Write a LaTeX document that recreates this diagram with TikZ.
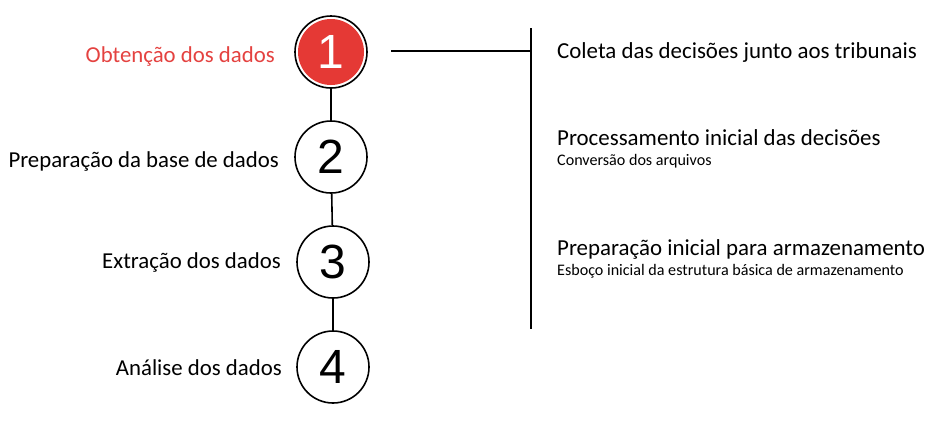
\documentclass[tikz,border=0pt]{standalone}
\usepackage{fontspec}
\setmainfont{Carlito}
\newfontfamily\numfont{Liberation Sans}
\usepackage{xcolor}
\usetikzlibrary{positioning,calc}
\definecolor{stepred}{RGB}{229,57,53}
\definecolor{labelred}{RGB}{228,66,64}

\begin{document}
\begin{tikzpicture}[x = 1pt, y = -1pt,
  num/.style = {circle, draw, line width = 1.6pt, minimum size = 72pt, inner sep = 0pt, font = {\numfont\fontsize{48}{48}\selectfont}},
  lbl/.style = {anchor = base east, inner sep = 0pt, font = {\fontsize{22.8}{27}\selectfont}},
  desc/.style = {anchor = base west, inner sep = 0pt, font = {\fontsize{22.9}{27}\selectfont}},
  sub/.style = {anchor = base west, inner sep = 0pt, font = {\fontsize{16.1}{19}\selectfont}}]
\useasboundingbox (0,0) rectangle (942,424);
% steps
\node[num, fill = white, text = white, path picture = {\fill[stepred] (path picture bounding box.center) circle (33pt);}] (c1) at (331,52) {1};
\node[num] (c2) at (331,157) {2};
\node[num] (c3) at (333,262) {3};
\node[num] (c4) at (333,367) {4};
\draw[line width = 1.6pt] (c1) -- (c2);
\draw[line width = 1.6pt] (c2) -- (c3);
\draw[line width = 1.6pt] (c3) -- (c4);
% step names
\node[lbl, text = labelred] (l1) at (275,62) {Obtenção dos dados};
\node[lbl] (l2) at (279,167) {Preparação da base de dados};
\node[lbl] (l3) at (281,268) {Extração dos dados};
\node[lbl] (l4) at (282,375) {Análise dos dados};
% bracket
\coordinate (hs) at (391,51);
\coordinate (bt) at (531,28);
\coordinate (bb) at (531,329);
\draw[line width = 1.6pt] (hs) -- (hs -| bt);
\draw[line width = 1.6pt] (bt) -- (bb);
% details of step 1
\node[desc] (d1) at (557,58) {Coleta das decisões junto aos tribunais};
\node[desc] (d2) at (557,145) {Processamento inicial das decisões};
\node[sub] (s2) at (557,165) {Conversão dos arquivos};
\node[desc] (d3) at (557,255) {Preparação inicial para armazenamento};
\node[sub] (s3) at (557,275) {Esboço inicial da estrutura básica de armazenamento};
\end{tikzpicture}
\end{document}
